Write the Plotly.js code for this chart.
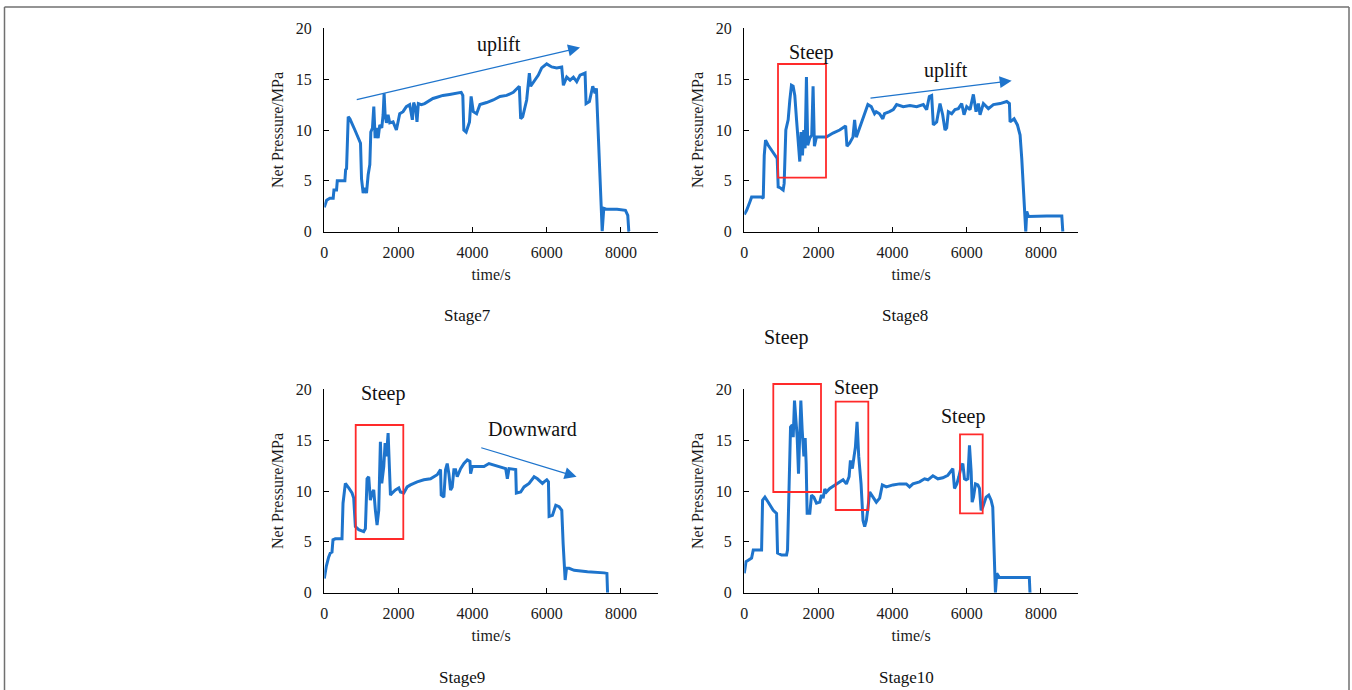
<!DOCTYPE html>
<html>
<head>
<meta charset="utf-8">
<script src="https://cdn.plot.ly/plotly-3.0.1.min.js"></script>
<style>html,body{margin:0;padding:0;background:#fff;}#chart{width:1352px;height:690px;}</style>
</head>
<body>
<div id="chart"></div>
<script>
// ---------------- DATA ----------------
const stageNames = ["Stage7", "Stage8", "Stage9", "Stage10"];
const xTicks = [0, 2000, 4000, 6000, 8000];
const yTicks = [0, 5, 10, 15, 20];

const s7_t = [0,63,150,240,260,330,350,555,575,600,645,690,825,914,977,1004,1048,1093,1138,1183,1228,1254,1299,1335,1371,1407,1452,1496,1550,1586,1613,1640,1676,1720,1765,1855,1944,2034,2124,2213,2303,2375,2411,2465,2500,2536,2616,2706,2796,2930,3020,3199,3378,3557,3692,3736,3763,3826,3916,3960,4018,4108,4198,4378,4558,4738,4918,5098,5260,5296,5350,5458,5530,5566,5683,5773,5863,5998,6133,6268,6403,6448,6538,6628,6718,6808,6898,7033,7060,7150,7240,7303,7339,7384,7420,7474,7495,7537,7627,7897,8122,8185,8212,8240];
const s7_p = [2.4,3.1,3.3,3.3,4.1,4.1,5.0,5.0,6.1,6.2,11.3,11.1,10.0,9.2,8.7,5.2,3.8,4.3,3.8,5.6,6.6,9.8,10.2,12.3,9.2,10.2,9.2,10.5,10.2,11.5,13.6,11.5,10.7,11.5,10.7,10.8,10.0,11.6,11.8,12.3,12.5,11.0,12.7,12.1,10.8,12.6,12.5,12.6,12.8,13.1,13.2,13.4,13.5,13.6,13.7,13.4,10.0,9.8,10.8,13.3,11.8,11.6,12.5,12.7,12.95,13.3,13.4,13.7,14.3,11.1,11.3,12.95,15.6,14.3,14.9,15.4,16.1,16.5,16.2,16.1,16.2,14.4,15.2,14.9,15.2,14.75,15.4,15.6,12.6,12.8,14.3,13.6,14.1,10.5,7.2,2.95,0.05,2.3,2.2,2.2,2.1,1.6,0.05,0];

const s8_t = [0,63,152,197,466,511,538,573,645,735,824,887,914,977,1048,1075,1120,1183,1228,1272,1317,1362,1407,1452,1496,1532,1568,1604,1640,1676,1711,1765,1819,1855,1891,1944,2213,2392,2572,2733,2769,2840,2930,2975,3020,3109,3244,3333,3423,3513,3557,3647,3736,3781,3916,4018,4108,4288,4468,4648,4828,4918,4990,5053,5098,5188,5278,5350,5413,5458,5503,5593,5683,5773,5863,5926,5998,6088,6178,6250,6313,6358,6448,6583,6718,6898,7078,7150,7168,7276,7366,7438,7483,7528,7573,7591,7618,7663,8158,8563,8590];
const s8_p = [1.7,2.1,2.95,3.4,3.4,3.3,7.5,9.0,8.5,8.0,7.5,7.2,4.4,4.3,4.1,4.75,10.0,11.0,12.95,14.4,14.3,13.4,11.1,9.0,6.9,9.8,7.5,10.0,8.2,15.2,8.5,9.2,9.5,14.3,8.4,9.3,9.3,9.7,10.0,10.4,8.4,8.7,9.3,11.0,9.3,10.2,11.5,12.5,12.3,11.6,11.8,11.6,11.1,11.6,11.8,12.0,12.5,12.3,12.4,12.3,12.5,12.0,13.3,13.4,10.5,10.8,12.6,11.5,10.0,10.2,11.8,11.6,12.0,12.1,12.6,11.5,12.3,12.0,13.5,11.8,12.6,11.5,12.6,12.1,12.5,12.6,12.8,12.6,10.8,11.1,10.5,9.5,7.2,4.3,1.6,0,2.0,1.5,1.55,1.55,0];

const s9_t = [0,54,117,162,207,234,297,477,505,568,658,748,793,838,928,1063,1108,1153,1198,1243,1288,1333,1378,1423,1468,1513,1550,1604,1640,1676,1721,1766,1784,1829,1919,2009,2054,2144,2234,2324,2505,2685,2865,3045,3135,3153,3225,3270,3315,3360,3405,3450,3495,3540,3585,3676,3766,3856,3928,3946,3991,4126,4306,4441,4577,4757,4892,4937,4982,5162,5180,5297,5387,5523,5658,5748,5883,5928,6000,6045,6063,6153,6243,6333,6405,6441,6469,6496,6532,6604,6739,7099,7549,7622,7640];
const s9_p = [1.4,2.6,3.5,3.9,4.0,5.2,5.3,5.3,8.8,10.75,10.3,9.8,9.3,6.5,6.2,6.0,6.3,11.2,11.4,9.1,9.8,10.1,8.1,6.65,8.1,14.85,10.75,12.4,14.7,13.4,15.7,12.1,9.6,9.8,10.1,10.3,9.9,9.8,10.4,10.6,10.9,11.1,11.2,11.6,12.1,9.6,9.4,12.1,12.7,11.7,10.1,10.4,12.1,12.1,11.4,12.2,12.7,13.05,12.9,11.7,12.4,12.4,12.4,12.7,12.55,12.4,12.2,11.2,12.2,12.1,9.8,9.9,10.4,10.75,11.4,11.2,10.75,10.9,11.1,10.9,7.5,7.6,8.6,8.45,8.1,4.85,2.9,1.25,2.4,2.4,2.2,2.05,1.95,1.9,0];

const s10_t = [0,45,108,197,242,466,493,556,646,780,870,897,1005,1139,1166,1211,1247,1292,1319,1354,1390,1426,1462,1489,1525,1561,1606,1642,1668,1695,1767,1812,1875,1947,2036,2081,2126,2171,2216,2305,2440,2574,2664,2754,2826,2862,2915,2960,2996,3041,3086,3149,3202,3247,3292,3337,3382,3471,3561,3651,3723,3830,4010,4189,4369,4458,4548,4727,4862,4952,5086,5221,5355,5490,5580,5624,5669,5732,5786,5849,5894,5939,5983,6028,6073,6118,6145,6181,6235,6298,6343,6387,6432,6522,6593,6656,6701,6728,6755,6773,6809,6880,7239,7687,7705];
const s10_p = [1.9,3.05,3.2,3.4,4.2,4.2,9.1,9.4,8.9,8.1,7.8,3.9,3.7,3.7,4.2,10.4,16.3,16.5,15.3,18.9,16.9,15.3,11.7,15.3,18.9,16.0,13.4,15.2,12.7,7.8,7.8,9.6,9.4,8.8,8.9,9.6,9.3,10.2,9.9,10.25,10.6,10.9,11.1,10.7,11.4,13.0,12.2,13.4,14.3,16.8,13.4,10.7,7.1,6.5,7.1,8.4,9.9,9.4,8.9,9.3,10.6,10.4,10.6,10.7,10.7,10.4,10.7,10.9,11.2,11.1,11.5,11.2,11.3,11.55,12.0,12.2,10.25,10.7,11.4,12.4,12.7,11.2,11.1,11.2,14.5,11.9,8.9,9.4,10.7,10.6,10.25,8.1,8.4,9.4,9.6,9.1,8.4,4.85,2.2,0,1.9,1.5,1.5,1.5,0];

// ---------------- STYLE / LAYOUT ----------------
const W = 1352, H = 690;
const LINE = "#1e74cc";
const RED = "#ff2a2a";
const FONT = "'Liberation Serif', 'Times New Roman', Times, serif";
const px = x => x / W;
const py = y => 1 - y / H;

// panel pixel boxes: [left, right, top, bottom]
const boxes = [
  [324.3, 658, 28.3, 231.7],
  [744.3, 1078, 28.3, 231.7],
  [324.3, 658, 389.3, 592.7],
  [744.3, 1078, 389.3, 592.7]
];
const series = [[s7_t, s7_p], [s8_t, s8_p], [s9_t, s9_p], [s10_t, s10_p]];

const traces = series.map((s, i) => ({
  type: "scatter", mode: "lines",
  x: s[0], y: s[1],
  xaxis: i === 0 ? "x" : "x" + (i + 1),
  yaxis: i === 0 ? "y" : "y" + (i + 1),
  line: {color: LINE, width: 3},
  hoverinfo: "skip", showlegend: false
}));

const layout = {
  width: W, height: H,
  margin: {l: 0, r: 0, t: 0, b: 0},
  paper_bgcolor: "#fff", plot_bgcolor: "#fff",
  font: {family: FONT, color: "#1a1a1a", size: 15},
  showlegend: false,
  shapes: [], annotations: []
};

boxes.forEach((b, i) => {
  const xa = i === 0 ? "xaxis" : "xaxis" + (i + 1);
  const ya = i === 0 ? "yaxis" : "yaxis" + (i + 1);
  layout[xa] = {
    domain: [px(b[0]), px(b[1])], range: [0, 9000], anchor: i === 0 ? "y" : "y" + (i + 1),
    tickvals: xTicks, ticktext: xTicks.map(String),
    ticks: "inside", ticklen: 5, tickwidth: 1, tickcolor: "#000",
    showline: true, linecolor: "#000", linewidth: 1.3, showgrid: false, zeroline: false,
    tickfont: {family: FONT, size: 16, color: "#1a1a1a"},
    ticklabelstandoff: 6,
    title: {text: "time/s", font: {family: FONT, size: 16, color: "#1a1a1a"}, standoff: 8},
    fixedrange: true
  };
  layout[ya] = {
    domain: [py(b[3]), py(b[2])], range: [0, 20], anchor: i === 0 ? "x" : "x" + (i + 1),
    tickvals: yTicks, ticktext: yTicks.map(String),
    ticks: "inside", ticklen: 5, tickwidth: 1, tickcolor: "#000",
    showline: true, linecolor: "#000", linewidth: 1.3, showgrid: false, zeroline: false,
    tickfont: {family: FONT, size: 16, color: "#1a1a1a"},
    ticklabelstandoff: 8,
    title: {text: "Net Pressure/MPa", font: {family: FONT, size: 16, color: "#1a1a1a"}, standoff: 8},
    fixedrange: true
  };
});

// outer frame (left, top, right)
const FRAME = "#707070";
layout.shapes.push(
  {type: "line", xref: "paper", yref: "paper", x0: px(4.5), x1: px(4.5), y0: py(7), y1: 0, line: {color: FRAME, width: 1.5}},
  {type: "line", xref: "paper", yref: "paper", x0: px(4.5), x1: px(1349), y0: py(7), y1: py(7), line: {color: FRAME, width: 1.5}},
  {type: "line", xref: "paper", yref: "paper", x0: px(1349), x1: px(1349), y0: py(7), y1: 0, line: {color: FRAME, width: 1.5}}
);

// red "Steep" boxes (pixel positions)
const redBoxes = [
  [778, 826, 64, 177.7],
  [355.7, 403.3, 425, 539],
  [773.3, 821, 384, 492],
  [835.7, 868.3, 401.7, 510],
  [960, 982.7, 434.3, 513.3]
];
redBoxes.forEach(r => layout.shapes.push({
  type: "rect", xref: "paper", yref: "paper",
  x0: px(r[0]), x1: px(r[1]), y0: py(r[3]), y1: py(r[2]),
  line: {color: RED, width: 1.8}, fillcolor: "rgba(0,0,0,0)"
}));

// text labels
const labels = [
  ["uplift", 499, 45],
  ["Steep", 811, 53],
  ["uplift", 946, 70],
  ["Steep", 786, 337],
  ["Steep", 383, 393],
  ["Downward", 532, 429],
  ["Steep", 856, 387],
  ["Steep", 963, 417]
];
labels.forEach(l => layout.annotations.push({
  text: l[0], xref: "paper", yref: "paper", x: px(l[1]), y: py(l[2]),
  xanchor: "center", yanchor: "middle", showarrow: false,
  font: {family: FONT, size: 20, color: "#111"}
}));

const stagePos = [[467, 315], [905, 315], [462, 677], [906, 677]];
stageNames.forEach((s, i) => layout.annotations.push({
  text: s, xref: "paper", yref: "paper", x: px(stagePos[i][0]), y: py(stagePos[i][1]),
  xanchor: "center", yanchor: "middle", showarrow: false,
  font: {family: FONT, size: 17, color: "#111"}
}));

// trend arrows (data coordinates): [xaxis, yaxis, tailX, tailY, tipX, tipY]
const arrows = [
  ["x", "y", 835, 12.95, 6898, 18.1],
  ["x2", "y2", 3363, 13.12, 7212, 14.85],
  ["x3", "y3", 4193, 14.3, 6804, 11.4]
];
arrows.forEach(a => layout.annotations.push({
  xref: a[0], yref: a[1], axref: a[0], ayref: a[1],
  x: a[4], y: a[5], ax: a[2], ay: a[3], text: "",
  showarrow: true, arrowhead: 2, arrowsize: 2, arrowwidth: 1.2, arrowcolor: LINE, standoff: 0
}));

Plotly.newPlot("chart", traces, layout, {staticPlot: true, displayModeBar: false});
</script>
</body>
</html>
